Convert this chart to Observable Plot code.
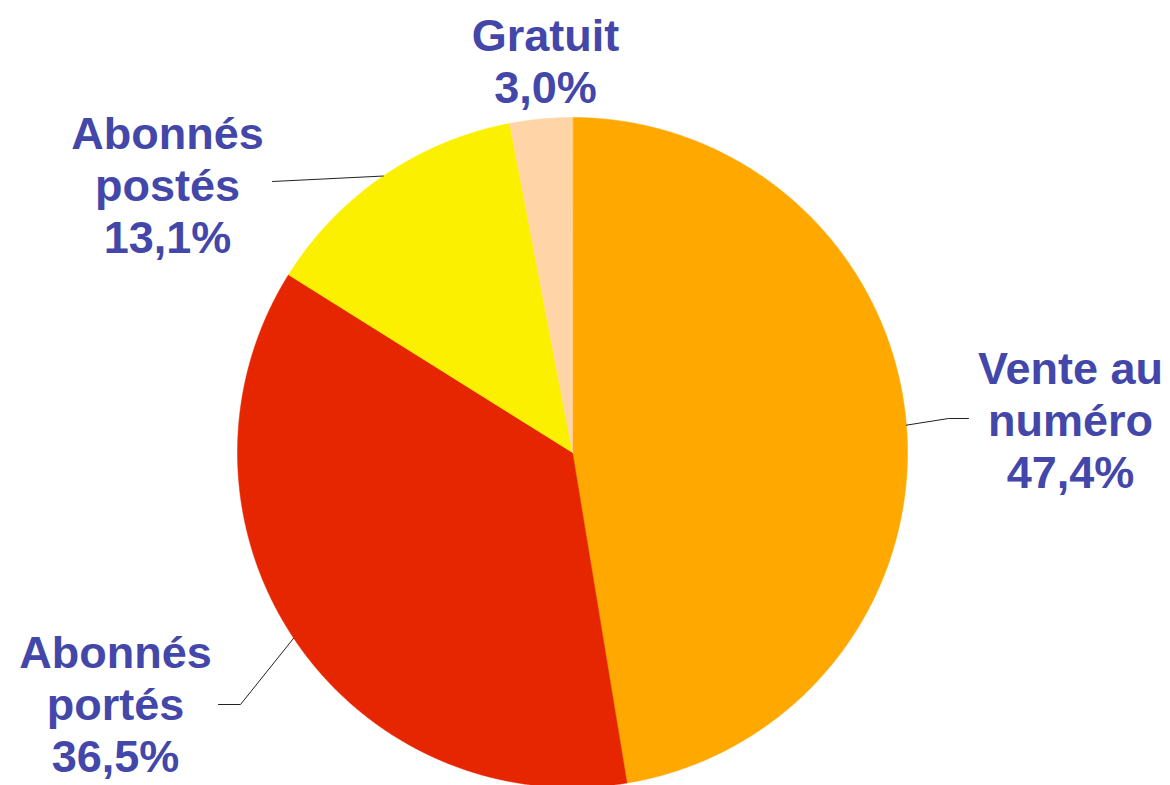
<!DOCTYPE html>
<html><head><meta charset="utf-8">
<script src="https://cdn.jsdelivr.net/npm/d3@7"></script>
<script src="https://cdn.jsdelivr.net/npm/@observablehq/plot@0.6"></script>
<style>html,body{margin:0;padding:0;background:#fff;overflow:hidden}</style>
</head><body><div id="chart"></div>
<script>
// ---- data ----
const categories = ["Vente au numéro", "Abonnés portés", "Abonnés postés", "Gratuit"];
const shares = [47.4, 36.5, 13.1, 3.0];
const valueLabels = ["47,4%", "36,5%", "13,1%", "3,0%"];
const nameLines = [["Vente au", "numéro"], ["Abonnés", "portés"], ["Abonnés", "postés"], ["Gratuit"]];
const sliceColors = ["#FFA800", "#E52600", "#FAF000", "#FFD5A8"];

// ---- layout ----
const W = 1170, H = 785, cx = 572, cy = 452, R = 335;
const FS = 45, LH = 52;
const layout = {
  "Vente au numéro": {x: 1070, base: 379, leader: [[948, 418], [968, 418]]},
  "Abonnés portés": {x: 115, base: 663, leader: [[240, 704], [218, 704]]},
  "Abonnés postés": {x: 167, base: 144, leader: [[272, 181]]},
  "Gratuit": {x: 545, base: 46, leader: null}
};

const data = categories.map((name, i) => ({name, share: shares[i], label: nameLines[i].concat([valueLabels[i]]).join("\n")}));
const arcs = d3.pie().sort(null).value(d => d.share)(data);
const pt = (a, r) => [cx + r * Math.sin(a), cy - r * Math.cos(a)];

const slicePts = [];
for (const a of arcs) {
  slicePts.push({name: a.data.name, x: cx, y: cy});
  const n = Math.max(2, Math.ceil((a.endAngle - a.startAngle) / (Math.PI / 720)));
  for (let k = 0; k <= n; k++) {
    const t = a.startAngle + (a.endAngle - a.startAngle) * k / n;
    const [x, y] = pt(t, R);
    slicePts.push({name: a.data.name, x, y});
  }
}

const leaderPts = [];
for (const a of arcs) {
  const L = layout[a.data.name];
  if (!L.leader) continue;
  const [x0, y0] = pt((a.startAngle + a.endAngle) / 2, R);
  leaderPts.push({name: a.data.name, x: x0, y: y0});
  for (const [x, y] of L.leader) leaderPts.push({name: a.data.name, x, y});
}

const labels = data.map(d => ({text: d.label, x: layout[d.name].x, y: layout[d.name].base - 0.71 * FS}));

const chart = Plot.plot({
  width: W, height: H,
  margin: 0, marginTop: 0, marginRight: 0, marginBottom: 0, marginLeft: 0,
  x: {domain: [0, W], range: [0, W], axis: null},
  y: {domain: [0, H], range: [0, H], axis: null},
  color: {domain: categories, range: sliceColors},
  style: {background: "#fff", overflow: "hidden"},
  marks: [
    Plot.line(slicePts, {x: "x", y: "y", z: "name", fill: "name", stroke: "name", strokeWidth: 0.5, curve: "linear-closed"}),
    Plot.line(leaderPts, {x: "x", y: "y", z: "name", stroke: "#222", strokeWidth: 1}),
    Plot.text(labels, {x: "x", y: "y", text: "text", textAnchor: "middle", lineAnchor: "top",
      lineHeight: LH / FS, fontSize: FS, fontWeight: "bold",
      fontFamily: "Arial, 'Liberation Sans', sans-serif", fill: "#4347A9"})
  ]
});
document.getElementById("chart").appendChild(chart);
</script>
</body></html>
